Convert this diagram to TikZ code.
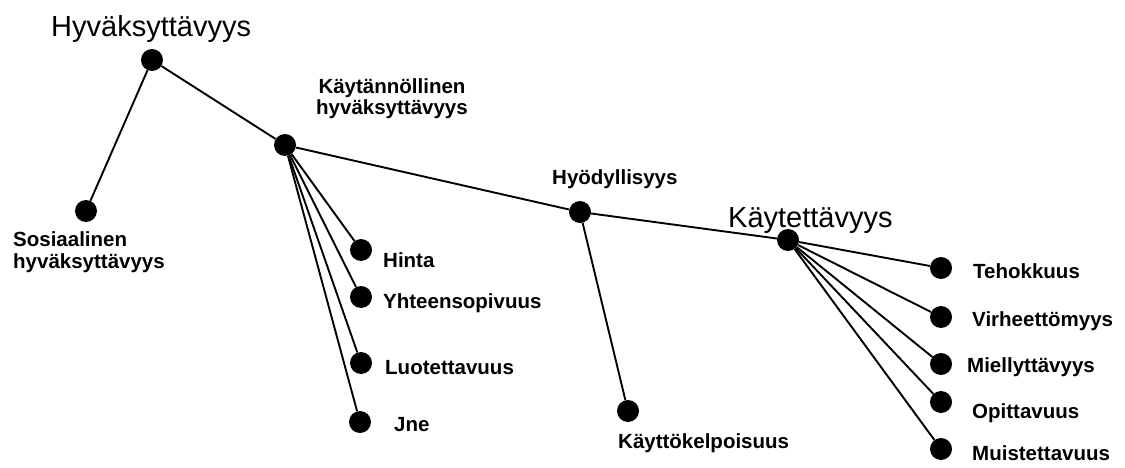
\documentclass[tikz,border=0pt]{standalone}
\usepackage{fontspec}
\setmainfont{Liberation Sans}
\begin{document}
\begin{tikzpicture}[x=1pt,y=-1pt,
  dot/.style={circle,fill=black,minimum size=22pt,inner sep=0pt},
  lbl/.style={font=\fontsize{20.5}{21.5}\selectfont\bfseries,inner sep=0pt,anchor=base west},
  biglbl/.style={font=\fontsize{29}{30}\selectfont,inner sep=0pt,anchor=base west},
  link/.style={line width=1.9pt}]
\useasboundingbox (0,0) rectangle (1125,468);

% points of the tree
\node[dot] (hyv) at (152,60) {};
\node[dot] (sos) at (86,211) {};
\node[dot] (kay) at (285,145) {};
\node[dot] (hin) at (361,250) {};
\node[dot] (yht) at (361,297) {};
\node[dot] (luo) at (361,363) {};
\node[dot] (jne) at (360,422) {};
\node[dot] (hyo) at (580,212) {};
\node[dot] (kel) at (628,411) {};
\node[dot] (kt)  at (788,240) {};
\node[dot] (teh) at (941,268) {};
\node[dot] (vir) at (941,317) {};
\node[dot] (mie) at (941,364) {};
\node[dot] (opi) at (941,402) {};
\node[dot] (mui) at (941,449) {};

% branches
\draw[link] (hyv) -- (sos);
\draw[link] (hyv) -- (kay);
\draw[link] (kay) -- (hyo);
\draw[link] (hyo) -- (kt);
\draw[link] (hyo) -- (kel);
\foreach \t in {hin,yht,luo,jne} \draw[link] (kay) -- (\t);
\foreach \t in {teh,vir,mie,opi,mui} \draw[link] (kt) -- (\t);

% labels (multi-line labels sit on the baseline of their last line)
\node[biglbl] (hyvL) at (51,37) {Hyväksyttävyys};
\node[lbl,align=left] (sosL) at (13,268) {Sosiaalinen\\hyväksyttävyys};
\node[lbl,align=center,anchor=base] (kayL) at (392,115) {Käytännöllinen\\hyväksyttävyys};
\node[lbl] (hinL) at (383,267) {Hinta};
\node[lbl] (yhtL) at (383,308) {Yhteensopivuus};
\node[lbl] (luoL) at (385,374) {Luotettavuus};
\node[lbl] (jneL) at (394,431) {Jne};
\node[lbl] (hyoL) at (552,185) {Hyödyllisyys};
\node[biglbl] (ktL) at (728,227) {Käytettävyys};
\node[lbl] (kelL) at (618,448) {Käyttökelpoisuus};
\node[lbl] (tehL) at (973,278) {Tehokkuus};
\node[lbl] (virL) at (972,326) {Virheettömyys};
\node[lbl] (mieL) at (967,372) {Miellyttävyys};
\node[lbl] (opiL) at (972,418) {Opittavuus};
\node[lbl] (muiL) at (972,460) {Muistettavuus};
\end{tikzpicture}
\end{document}
